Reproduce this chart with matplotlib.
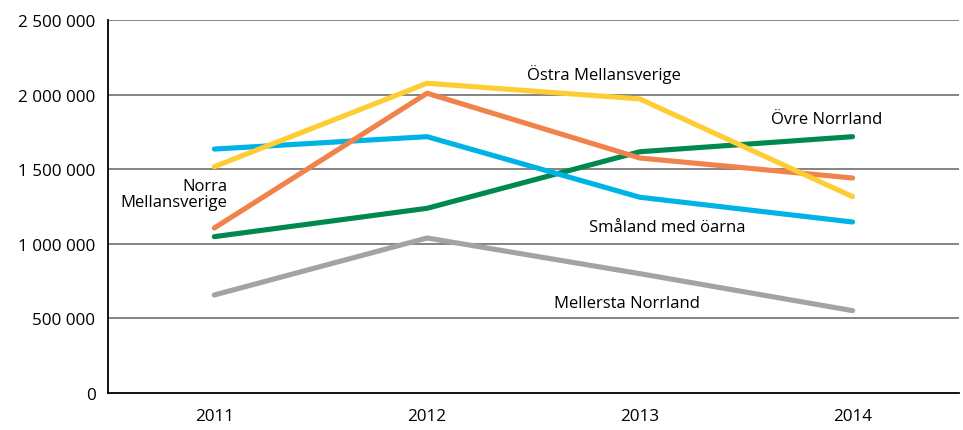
import matplotlib
matplotlib.use("Agg")
import matplotlib.pyplot as plt
from matplotlib.ticker import FuncFormatter

plt.rcParams['font.family'] = ['Open Sans', 'DejaVu Sans']

years = ["2011", "2012", "2013", "2014"]

ostra_mellansverige = [1517000, 2076000, 1971000, 1316000]
norra_mellansverige = [1106000, 2009000, 1575000, 1441000]
smaland_med_oarna = [1635000, 1718000, 1312000, 1146000]
ovre_norrland = [1048000, 1238000, 1617000, 1718000]
mellersta_norrland = [657000, 1039000, 800000, 552000]

series = [
    (ovre_norrland, "#00894f"),
    (mellersta_norrland, "#a3a3a3"),
    (smaland_med_oarna, "#00b3e6"),
    (norra_mellansverige, "#f0834b"),
    (ostra_mellansverige, "#fecd34"),
]

fig = plt.figure(figsize=(9.63, 4.31), dpi=100)
ax = fig.add_axes([0.1121, 0.0858, 0.8837, 0.8655])

x = range(len(years))
for values, color in series:
    ax.plot(x, values, color=color, lw=3.7, solid_capstyle='round',
            solid_joinstyle='round', zorder=3)

ax.set_xlim(-0.5, 3.5)
ax.set_ylim(0, 2500000)
ax.set_xticks(list(x))
ax.set_xticklabels(years)
ax.set_yticks(range(0, 2500001, 500000))
ax.yaxis.set_major_formatter(FuncFormatter(lambda v, p: f"{int(v):,}".replace(",", " ")))
ax.tick_params(length=0, labelsize=12.3, pad=9)
ax.tick_params(axis='x', pad=11)

for v in range(500000, 2500001, 500000):
    ax.axhline(v, color="#6e6e6e", lw=1.2, zorder=1)

for side in ["top", "right"]:
    ax.spines[side].set_visible(False)
for side in ["left", "bottom"]:
    ax.spines[side].set_color("black")
    ax.spines[side].set_linewidth(1.3)

label_kw = dict(fontsize=12, color="black", zorder=4)
ax.text(1.83, 2138000, "Östra Mellansverige", ha="center", va="center", **label_kw)
ax.text(2.876, 1836000, "Övre Norrland", ha="center", va="center", **label_kw)
ax.text(0.06, 1334000, "Norra\nMellansverige", ha="right", va="center",
        multialignment="right", linespacing=1.0, **label_kw)
ax.text(2.13, 1113000, "Småland med öarna", ha="center", va="center", **label_kw)
ax.text(1.94, 603000, "Mellersta Norrland", ha="center", va="center", **label_kw)

fig.savefig("out.png", dpi=100)
